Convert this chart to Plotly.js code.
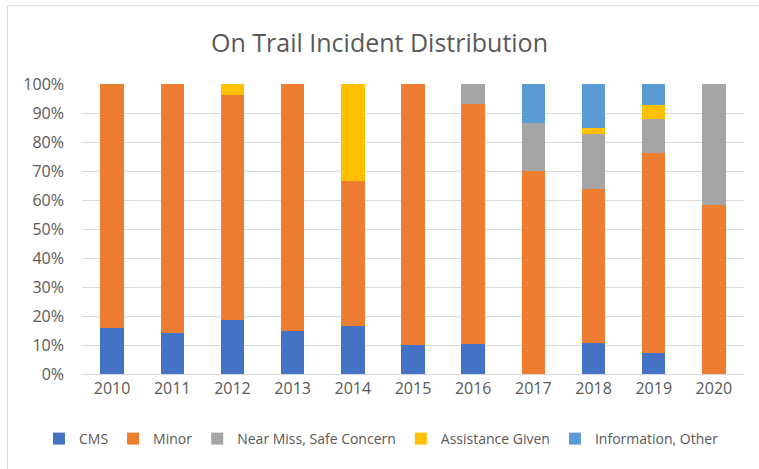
<!DOCTYPE html>
<html>
<head>
<meta charset="utf-8">
<script src="https://cdn.plot.ly/plotly-3.0.1.min.js"></script>
<style>
  body { margin: 0; background: #ffffff; }
  #chart { width: 759px; height: 469px; }
</style>
</head>
<body>
<div id="chart"></div>
<script>
// years on the x axis
var years = ['2010', '2011', '2012', '2013', '2014', '2015', '2016', '2017', '2018', '2019', '2020'];

// share of incidents per year (%)
var cms        = [16.0, 14.0, 18.5, 15.0, 16.7, 10.0, 10.3,  0.0, 10.6,  7.1,  0.0];
var minor      = [84.0, 86.0, 77.6, 85.0, 50.0, 90.0, 82.8, 70.0, 53.2, 69.0, 58.3];
var nearMiss   = [ 0.0,  0.0,  0.0,  0.0,  0.0,  0.0,  6.9, 16.7, 19.1, 11.9, 41.7];
var assistance = [ 0.0,  0.0,  3.9,  0.0, 33.3,  0.0,  0.0,  0.0,  2.1,  4.8,  0.0];
var infoOther  = [ 0.0,  0.0,  0.0,  0.0,  0.0,  0.0,  0.0, 13.3, 14.9,  7.1,  0.0];

var yTicks = [0, 10, 20, 30, 40, 50, 60, 70, 80, 90, 100];

function makeTrace(name, values, color){
	return {
		x: years,
		y: values,
		type: 'bar',
		name: name,
		marker: { color: color, line: { width: 0 } },
		hoverinfo: 'x+y+name'
	};
}

var pdata = [
	makeTrace('CMS', cms, '#4472C4'),
	makeTrace('Minor', minor, '#ED7D31'),
	makeTrace('Near Miss, Safe Concern', nearMiss, '#A5A5A5'),
	makeTrace('Assistance Given', assistance, '#FFC000'),
	makeTrace('Information, Other', infoOther, '#5B9BD5')
];

var layout = {
	width: 759,
	height: 469,
	barmode: 'stack',
	bargap: 0.61,
	paper_bgcolor: '#ffffff',
	plot_bgcolor: '#ffffff',
	font: { family: 'Open Sans, Liberation Sans, sans-serif', color: '#595959', size: 16 },
	margin: { l: 82, r: 15, t: 84, b: 95, autoexpand: false },
	title: {
		text: 'On Trail Incident Distribution',
		font: { size: 25, color: '#595959' },
		x: 0.5,
		xanchor: 'center',
		y: 0.908,
		yanchor: 'middle'
	},
	xaxis: {
		type: 'category',
		showgrid: false,
		showline: true,
		linecolor: '#d9d9d9',
		linewidth: 1,
		ticks: '',
		tickfont: { size: 16, color: '#595959' }
	},
	yaxis: {
		range: [0, 100],
		tickvals: yTicks,
		ticktext: yTicks.map(function(v){ return v + '%'; }),
		showgrid: true,
		gridcolor: '#d9d9d9',
		gridwidth: 1,
		zeroline: false,
		showline: false,
		ticks: '',
		ticklabelstandoff: 17,
		tickfont: { size: 16, color: '#595959' }
	},
	legend: {
		orientation: 'h',
		x: -0.065,
		xanchor: 'left',
		y: -0.169,
		yanchor: 'top',
		itemwidth: 30,
		tracegroupgap: 0,
		traceorder: 'normal',
		font: { size: 14, color: '#595959' }
	},
	shapes: [{
		type: 'rect',
		xref: 'paper',
		yref: 'paper',
		x0: -0.1125,
		x1: 1.04,
		y0: -0.34,
		y1: 1.27,
		line: { color: '#d9d9d9', width: 1 },
		fillcolor: 'rgba(0,0,0,0)',
		layer: 'below'
	}]
};

Plotly.newPlot('chart', pdata, layout, { displayModeBar: false, staticPlot: true });
</script>
</body>
</html>
